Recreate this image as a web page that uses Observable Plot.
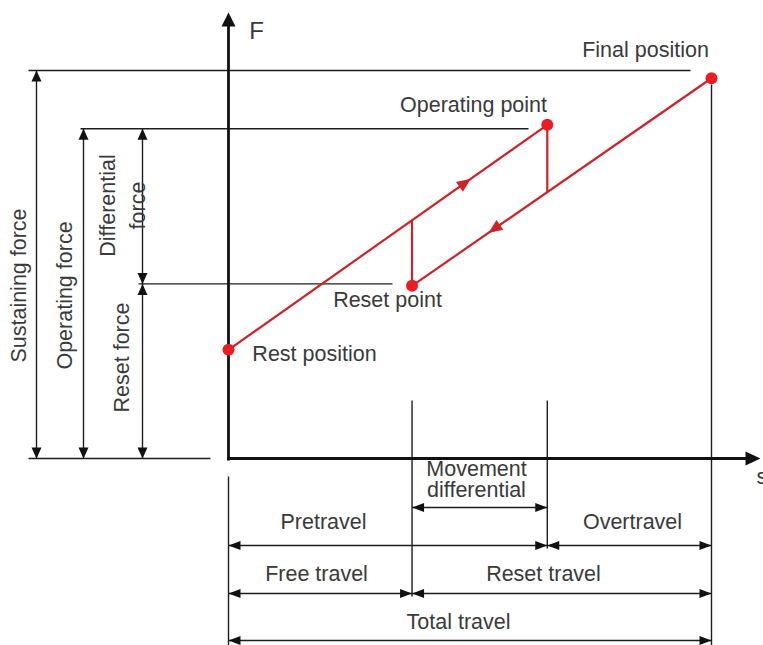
<!DOCTYPE html>
<html><head><meta charset="utf-8">
<script src="https://cdn.jsdelivr.net/npm/d3@7"></script>
<script src="https://cdn.jsdelivr.net/npm/@observablehq/plot@0.6"></script>
<style>
html,body{margin:0;padding:0;background:#fff;}
#chart svg{display:block;}
</style>
</head><body><div id="chart"></div>
<script>
// ---------------- data ----------------
const pointNames  = ["Rest position", "Reset point", "Operating point", "Final position"];
const pointTravel = [0, 3.8, 6.6, 10];       // travel s
const pointForce  = [2.8, 4.45, 8.6, 9.8];   // force F
const forceNames  = ["Sustaining force", "Operating force", "Reset force"];
const forceLevels = [10, 8.5, 4.5];
const differentialName = ["Differential", "force"];
const travelNames = ["Movement differential", "Pretravel", "Overtravel", "Free travel", "Reset travel", "Total travel"];
const travelFrom  = [3.8, 0, 6.6, 0, 3.8, 0];
const travelTo    = [6.6, 6.6, 10, 3.8, 10, 10];
const axisNames   = ["F", "s"];
const directionArrowTravel = [4.9, 5.5];     // where the direction arrows sit (upper, lower branch)

// ---------------- layout ----------------
const W = 763, H = 645;
const X0 = 228, Y0 = 458, KX = 48.3, KY = 38.8;   // pixel origin and pixels per unit
const xs = px => (px - X0) / KX;   // pixel -> travel units
const ys = py => (Y0 - py) / KY;   // pixel -> force units

const INK = "#1e1e1e", AXIS = "#111", RED_LINE = "#cc2229", RED_DOT = "#ec1c24", TXT = "#3a3a3a";
const FS = 21.5;
const FONT = "'Liberation Sans', Arial, sans-serif";

// triangle symbol factory: direction angle (screen radians), length, width, centered?
function tri(angle, L, Wd, centered) {
  return {draw(ctx) {
    const c = Math.cos(angle), s = Math.sin(angle);
    const off = centered ? L / 2 : 0;
    const pt = (a, b) => [a * c - b * s, a * s + b * c];
    const p0 = pt(off, 0), p1 = pt(off - L, -Wd / 2), p2 = pt(off - L, Wd / 2);
    ctx.moveTo(p0[0], p0[1]); ctx.lineTo(p1[0], p1[1]); ctx.lineTo(p2[0], p2[1]); ctx.closePath();
  }};
}
const RIGHT = 0, LEFT = Math.PI, UP = -Math.PI / 2, DOWN = Math.PI / 2;

// ---------------- derived geometry ----------------
const P = pointNames.map((name, i) => ({name, s: pointTravel[i], F: pointForce[i]}));
const [rest, reset, oper, fin] = P;
const lerp = (a, b, s) => a.F + (b.F - a.F) * (s - a.s) / (b.s - a.s);
const upperAtReset = lerp(rest, oper, reset.s);
const lowerAtOper  = lerp(reset, fin, oper.s);

const [Fsus, Fop, Fres] = forceLevels;

const redLinks = [
  {x1: rest.s, y1: rest.F, x2: oper.s, y2: oper.F},
  {x1: fin.s, y1: fin.F, x2: reset.s, y2: reset.F},
  {x1: reset.s, y1: reset.F, x2: reset.s, y2: upperAtReset},
  {x1: oper.s, y1: oper.F, x2: oper.s, y2: lowerAtOper}
];
const angUp = Math.atan2(-(oper.F - rest.F) * KY, (oper.s - rest.s) * KX);
const angDn = Math.atan2(-(reset.F - fin.F) * KY, (reset.s - fin.s) * KX);
const dirUp = [{s: directionArrowTravel[0], F: lerp(rest, oper, directionArrowTravel[0])}];
const dirDn = [{s: directionArrowTravel[1], F: lerp(reset, fin, directionArrowTravel[1])}];

// extension lines
const extLines = [
  {x1: xs(28),  y1: Fsus, x2: xs(690), y2: Fsus},
  {x1: xs(80),  y1: Fop,  x2: xs(528), y2: Fop},
  {x1: xs(138), y1: Fres, x2: xs(392), y2: Fres},
  {x1: xs(28),  y1: 0,    x2: xs(210), y2: 0},
  {x1: rest.s,  y1: ys(476), x2: rest.s,  y2: ys(H)},
  {x1: reset.s, y1: ys(400), x2: reset.s, y2: ys(596)},
  {x1: oper.s,  y1: ys(400), x2: oper.s,  y2: ys(548)},
  {x1: fin.s,   y1: ys(84),  x2: fin.s,   y2: ys(H)}
];

// vertical (force) dimension lines
const forceDims = [
  {x: xs(36),  a: 0,    b: Fsus},
  {x: xs(83),  a: 0,    b: Fop},
  {x: xs(142), a: Fres, b: Fop},
  {x: xs(142), a: 0,    b: Fres}
];
// horizontal (travel) dimension lines
const travelRows = [507, 545, 545, 593, 593, 640];
const travelDims = travelNames.map((n, i) => ({y: ys(travelRows[i]), a: travelFrom[i], b: travelTo[i]}));

// label layout (pixel centers)
const travelLabelPos = [null, [323, 522], [632, 522], [316, 574], [543, 574], [458, 622]];
const travelLabels = travelNames.map((t, i) => i === 0 ? null : {t, x: xs(travelLabelPos[i][0]), y: ys(travelLabelPos[i][1])}).filter(d => d);
const moveLabels = [
  {t: travelNames[0].split(" ")[0], x: xs(476), y: ys(469)},
  {t: travelNames[0].split(" ")[1], x: xs(476), y: ys(490)}
];
const forceLabels = [
  {t: forceNames[0], x: xs(19),  y: ys(285)},
  {t: forceNames[1], x: xs(65),  y: ys(295)},
  {t: differentialName[0], x: xs(108), y: ys(205)},
  {t: differentialName[1], x: xs(138), y: ys(205)},
  {t: forceNames[2], x: xs(122), y: ys(357)}
];
const pointLabelPos = [[314, 354], [387, 300], [473, 105], [645, 50]];
const pointLabels = pointNames.map((t, i) => ({t, x: xs(pointLabelPos[i][0]), y: ys(pointLabelPos[i][1])}));

const txt = (data, extra = {}) => Plot.text(data, {x: "x", y: "y", text: "t", fill: TXT, fontSize: FS, fontFamily: FONT, ...extra});
const heads = (data, x, y, angle, L, Wd, fill = AXIS) =>
  Plot.dot(data, {x, y, r: 1, symbol: tri(angle, L, Wd, false), fill, stroke: "none"});

const chart = Plot.plot({
  width: W, height: H,
  marginTop: 0, marginRight: 0, marginBottom: 0, marginLeft: 0,
  x: {domain: [xs(0), xs(W)], range: [0, W], axis: null},
  y: {domain: [ys(H), ys(0)], range: [H, 0], axis: null},
  style: {background: "white", fontFamily: FONT},
  marks: [
    // extension lines
    Plot.link(extLines, {x1: "x1", y1: "y1", x2: "x2", y2: "y2", stroke: INK, strokeWidth: 1.4}),
    // force dimension lines + heads
    Plot.link(forceDims, {x1: "x", y1: "a", x2: "x", y2: "b", stroke: INK, strokeWidth: 1.4}),
    heads(forceDims, "x", "b", UP, 11, 10),
    heads(forceDims, "x", "a", DOWN, 11, 10),
    // travel dimension lines + heads
    Plot.link(travelDims, {x1: "a", y1: "y", x2: "b", y2: "y", stroke: INK, strokeWidth: 1.4}),
    heads(travelDims, "a", "y", LEFT, 12, 9),
    heads(travelDims, "b", "y", RIGHT, 12, 9),
    // axes
    Plot.link([{x1: 0, y1: ys(460), x2: 0, y2: ys(22)}], {x1: "x1", y1: "y1", x2: "x2", y2: "y2", stroke: AXIS, strokeWidth: 2.8}),
    Plot.link([{x1: xs(226.6), y1: 0, x2: xs(748), y2: 0}], {x1: "x1", y1: "y1", x2: "x2", y2: "y2", stroke: AXIS, strokeWidth: 2.8}),
    heads([{x: 0, y: ys(12)}], "x", "y", UP, 14, 14),
    heads([{x: xs(760), y: 0}], "x", "y", RIGHT, 15, 14),
    // characteristic curve
    Plot.link(redLinks, {x1: "x1", y1: "y1", x2: "x2", y2: "y2", stroke: RED_LINE, strokeWidth: 2.2}),
    Plot.dot(dirUp, {x: "s", y: "F", r: 1, symbol: tri(angUp, 14, 12, true), fill: RED_LINE, stroke: "none"}),
    Plot.dot(dirDn, {x: "s", y: "F", r: 1, symbol: tri(angDn, 14, 12, true), fill: RED_LINE, stroke: "none"}),
    Plot.dot(P, {x: "s", y: "F", r: 6, fill: RED_DOT, stroke: "none"}),
    // texts
    txt(pointLabels),
    txt(travelLabels),
    txt(moveLabels),
    txt(forceLabels, {rotate: -90}),
    txt([{t: axisNames[0], x: xs(256), y: ys(31)}], {fontSize: 24}),
    txt([{t: axisNames[1], x: xs(756), y: ys(477)}], {textAnchor: "start"})
  ]
});
document.getElementById("chart").appendChild(chart);
</script>
</body></html>
